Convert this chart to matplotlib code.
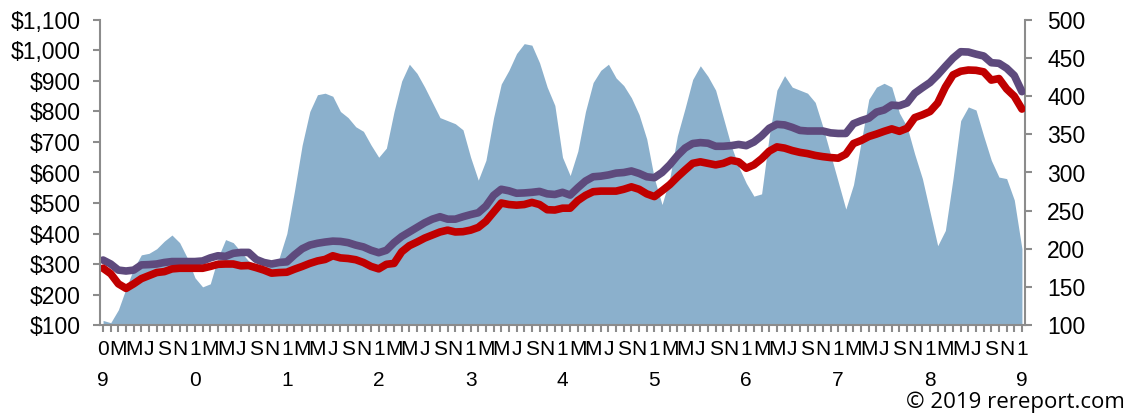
import numpy as np
import matplotlib
matplotlib.use("Agg")
import matplotlib.pyplot as plt
from matplotlib.ticker import FuncFormatter

# monthly series, Jan 2009 .. Jan 2019
years = ["09", "10", "11", "12", "13", "14", "15", "16", "17", "18", "19"]
month_letters = ["J", "F", "M", "A", "M", "J", "J", "A", "S", "O", "N", "D"]

# shaded area, right axis
area = [106, 103, 120, 148, 174, 192, 194, 200, 210, 218, 208, 188,
        162, 150, 154, 188, 212, 208, 196, 184, 180, 176, 178, 188,
        220, 276, 336, 380, 402, 404, 400, 380, 372, 360, 354, 336,
        320, 332, 380, 420, 442, 430, 412, 392, 372, 368, 364, 356,
        320, 290, 316, 372, 416, 434, 456, 469, 467, 444, 412, 388,
        320, 296, 328, 380, 418, 434, 442, 424, 414, 398, 376, 344,
        292, 258, 292, 348, 384, 422, 440, 426, 408, 372, 336, 308,
        286, 269, 272, 348, 408, 427, 412, 408, 404, 392, 360, 324,
        288, 252, 284, 340, 396, 412, 417, 412, 378, 360, 324, 292,
        248, 204, 224, 292, 368, 386, 382, 348, 316, 294, 292, 264,
        200]

# purple line, left axis ($)
purple = [313, 300, 280, 277, 280, 297, 298, 300, 305, 308, 308, 308,
          308, 310, 320, 327, 325, 335, 338, 338, 315, 305, 300, 305,
          307, 330, 350, 362, 368, 372, 375, 374, 370, 362, 356, 345,
          337, 345, 370, 390, 405, 420, 435, 447, 455, 447, 447, 455,
          462, 468, 490, 525, 545, 540, 532, 533, 535, 538, 530, 528,
          535, 526, 550, 572, 586, 588, 592, 598, 600, 605, 597, 586,
          583, 600, 625, 655, 680, 695, 698, 696, 686, 686, 688, 692,
          688, 700, 720, 745, 758, 756, 748, 738, 736, 736, 736, 730,
          728, 728, 760, 770, 778, 798, 805, 821, 819, 828, 860, 878,
          895, 920, 948, 975, 996, 995, 988, 982, 960, 958, 942, 918,
          865]

# red line, left axis ($)
red = [286, 268, 235, 220, 235, 252, 262, 272, 275, 284, 286, 286,
       286, 286, 292, 299, 300, 300, 294, 295, 288, 280, 270, 272,
       273, 283, 292, 302, 310, 315, 327, 320, 318, 314, 305, 292,
       284, 299, 302, 340, 360, 372, 385, 395, 405, 411, 405, 406,
       411, 420, 440, 470, 500, 495, 493, 495, 502, 495, 478, 477,
       483, 483, 508, 525, 537, 539, 539, 539, 545, 553, 545, 530,
       521, 540, 560, 585, 608, 630, 635, 630, 625, 630, 640, 635,
       614, 625, 645, 670, 684, 680, 672, 666, 662, 656, 652, 649,
       647, 660, 695, 705, 718, 726, 735, 743, 735, 745, 780, 789,
       800, 828, 880, 920, 932, 936, 935, 930, 903, 908, 874, 850,
       808]

n = len(area)
x = np.arange(n)

labels = []
for m in range(n):
    if m % 12 == 0:
        yy = years[m // 12]
        labels.append(yy[0] + "\n" + yy[1])
    elif m % 2 == 0:
        labels.append(month_letters[m % 12])
    else:
        labels.append("")

plt.rcParams['font.family'] = ['Liberation Sans', 'DejaVu Sans']

fig = plt.figure(figsize=(11.28, 4.15), dpi=100)
ax = fig.add_axes([100/1128, 90/415, 925/1128, 305/415])
ax2 = ax.twinx()

area_col = "#8bb0cc"
ax2.fill_between(x, 100, area, color=area_col, linewidth=0)
ax2.set_ylim(100, 500)
ax2.set_yticks(np.arange(100, 501, 50))

ax.plot(x, purple, color="#5e4a7d", lw=5.5, solid_capstyle="round", solid_joinstyle="round")
ax.plot(x, red, color="#c00000", lw=5.5, solid_capstyle="round", solid_joinstyle="round")
ax.set_ylim(100, 1100)
ax.set_yticks(np.arange(100, 1101, 100))
ax.yaxis.set_major_formatter(FuncFormatter(lambda v, p: "${:,.0f}".format(v)))
ax.set_xlim(-0.4, n - 1 + 0.4)
ax.set_xticks(x)
ax.set_xticklabels(labels)
for t in ax.get_xticklabels():
    t.set_linespacing(1.75)

ax.set_zorder(ax2.get_zorder() + 1)
ax.patch.set_visible(False)

gray = "#8c8c8c"
for a in (ax, ax2):
    a.spines["top"].set_visible(False)
    for s in ("left", "right", "bottom"):
        a.spines[s].set_color(gray)
        a.spines[s].set_linewidth(1.5)
ax.spines["right"].set_visible(False)
ax2.spines["left"].set_visible(False)
ax2.spines["bottom"].set_visible(False)

ax.tick_params(axis="y", length=5, width=1.5, color=gray, labelsize=16.5, pad=9)
ax2.tick_params(axis="y", length=5, width=1.5, color=gray, labelsize=16.5, pad=11)
ax.tick_params(axis="x", length=5, width=1.5, color=gray, labelsize=15, pad=6)

fig.text(0.997, 0.006, "\u00a9 2019 rereport.com", ha="right", va="bottom",
         fontsize=16, family=["Open Sans", "DejaVu Sans"])

fig.savefig("out.png", dpi=100)
